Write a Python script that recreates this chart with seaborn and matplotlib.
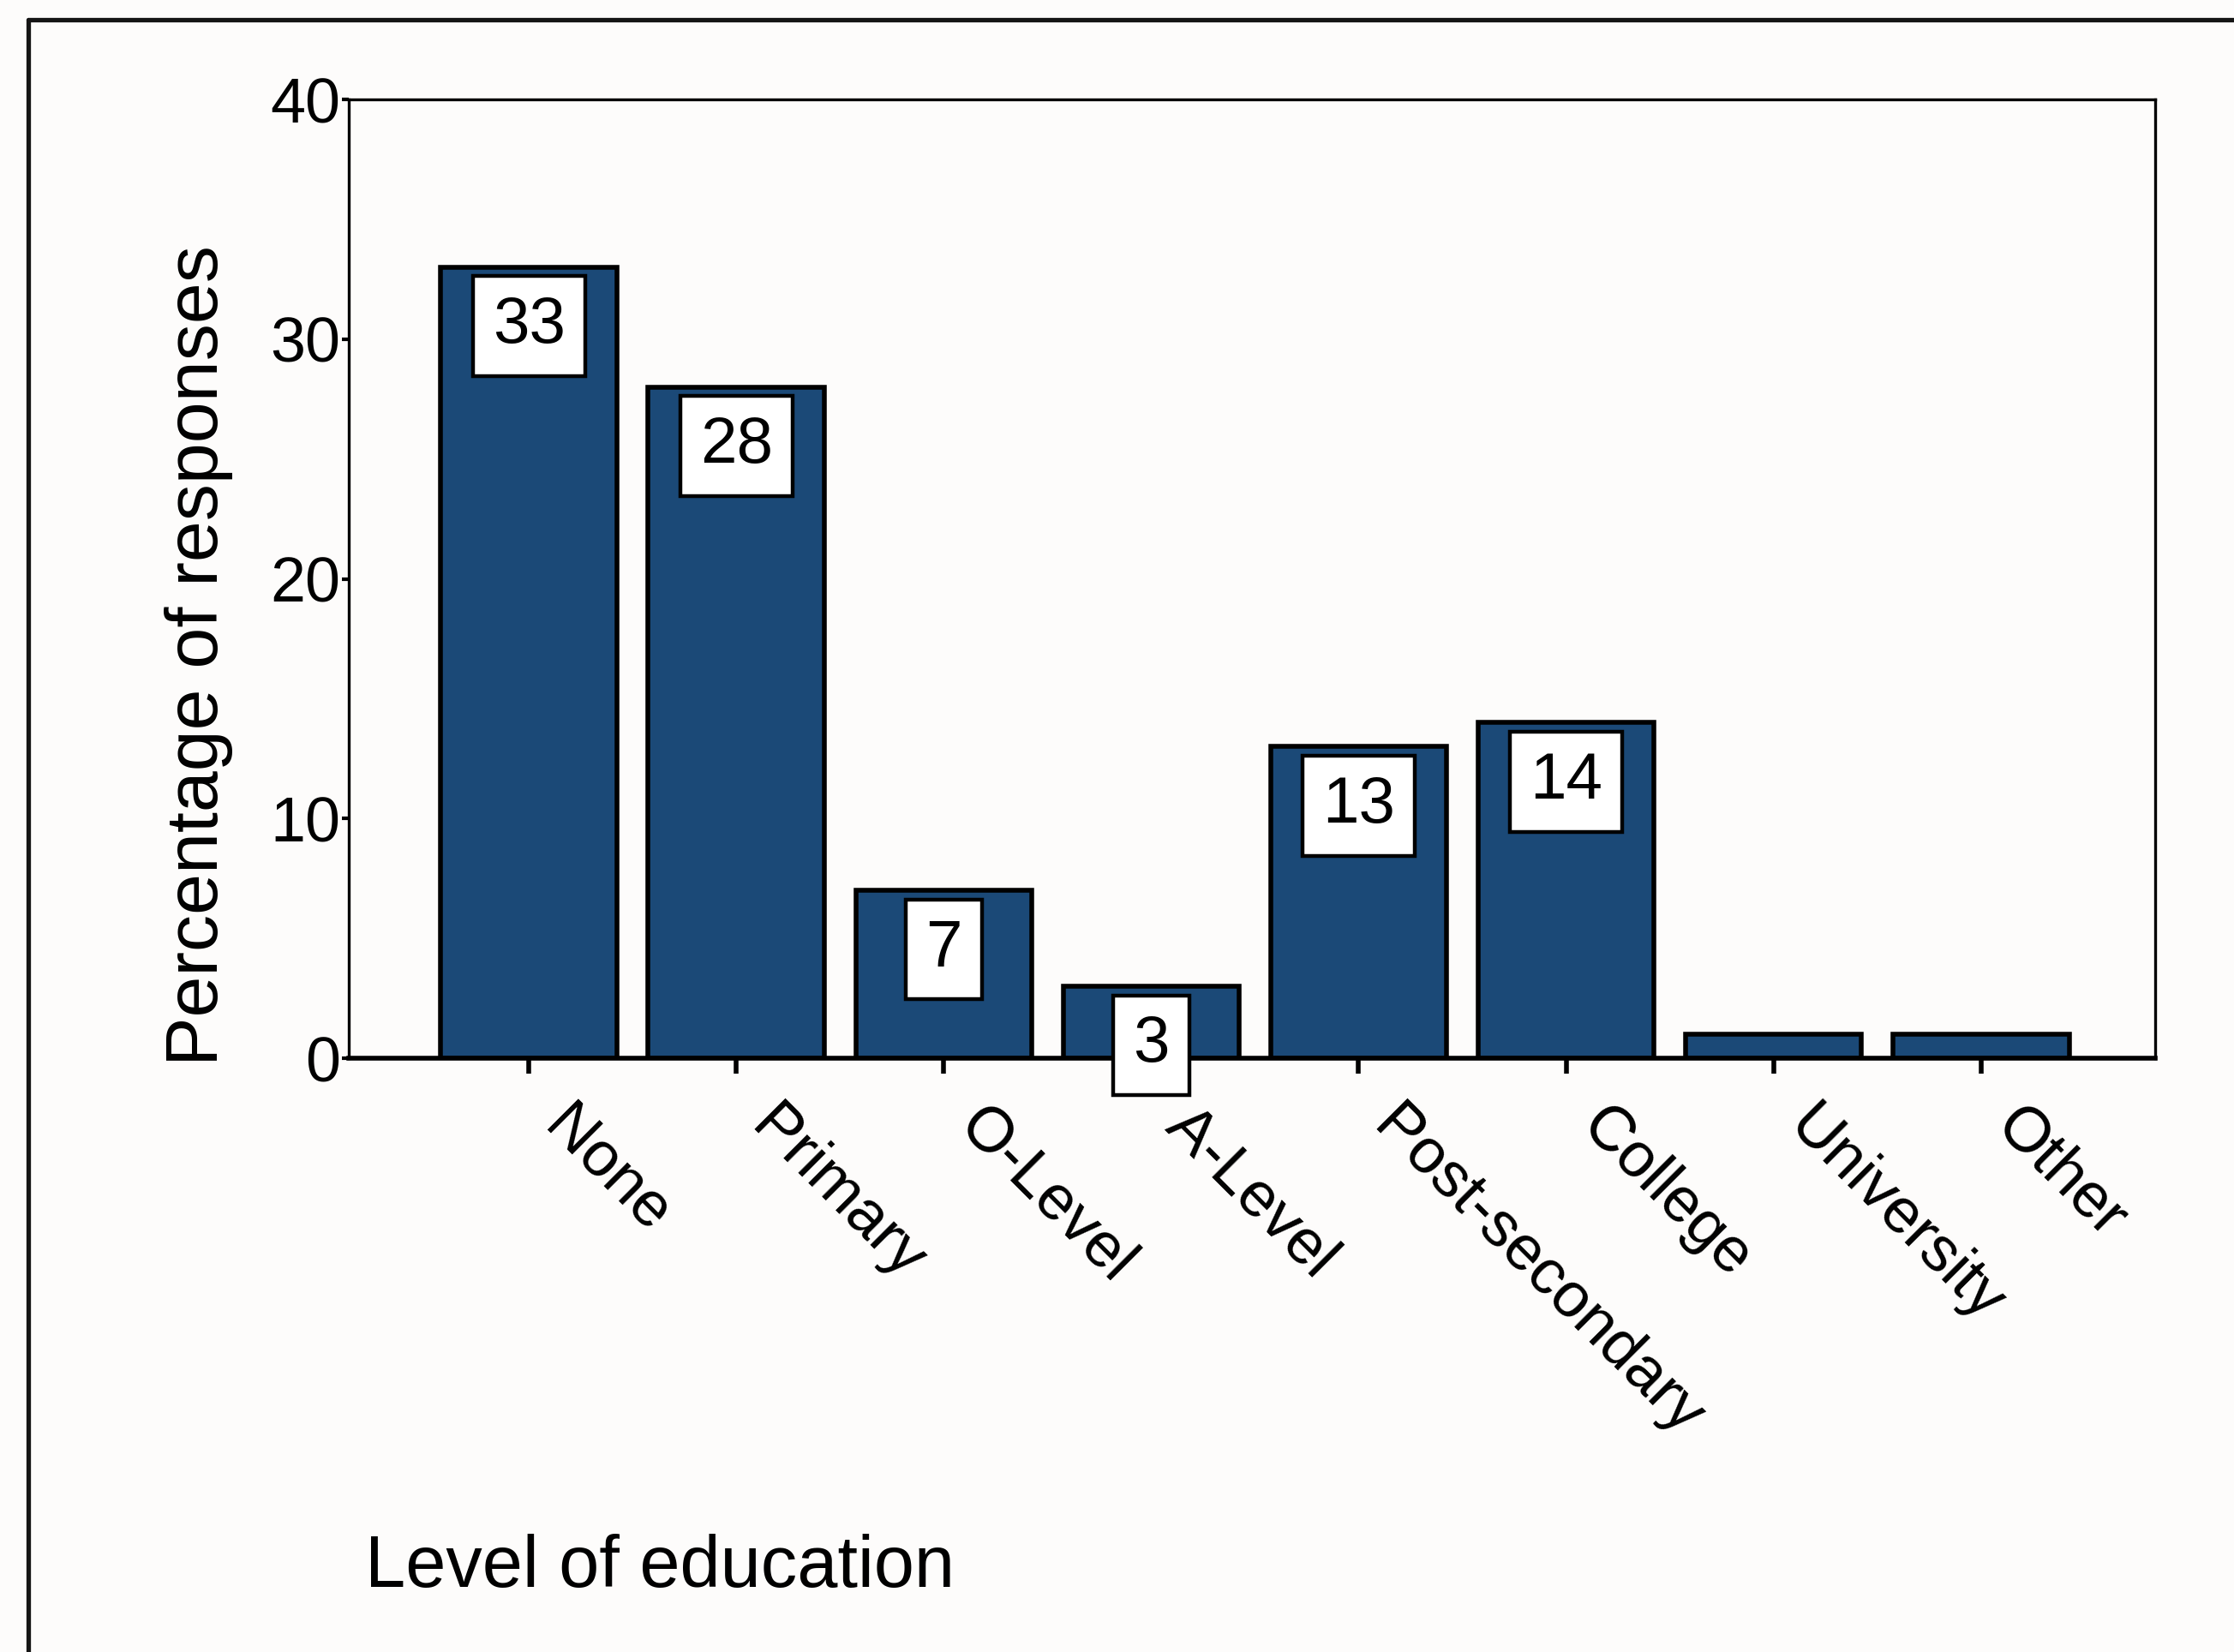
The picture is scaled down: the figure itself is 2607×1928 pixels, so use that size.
import matplotlib
matplotlib.use("Agg")
import matplotlib.pyplot as plt
import matplotlib.transforms as mtransforms
from matplotlib.lines import Line2D
import seaborn as sns
import pandas as pd

# Survey results: share of respondents by highest level of education
levels = ["None", "Primary", "O-Level", "A-Level", "Post-secondary",
          "College", "University", "Other"]
percent = [33, 28, 7, 3, 13, 14, 1, 1]
value_labels = ["33", "28", "7", "3", "13", "14", "", ""]
y_ticks = [0, 10, 20, 30, 40]

sns.set_theme(style="white")
plt.rcParams["font.family"] = ["Liberation Sans", "DejaVu Sans"]

paper = "#fdfcfb"
navy = "#1b4977"

fig = plt.figure(figsize=(26.07, 19.28), dpi=100, facecolor=paper)

# Page frame (top rule and left rule)
fig.add_artist(Line2D([0.0125, 1.0], [0.988, 0.988], transform=fig.transFigure,
                      color="#151515", lw=3.8, zorder=1))
fig.add_artist(Line2D([0.0125, 0.0125], [0.0, 0.988], transform=fig.transFigure,
                      color="#151515", lw=3.8, zorder=1))

ax = fig.add_axes([0.156, 0.3594, 0.8087, 0.5804])
ax.set_facecolor("none")

df = pd.DataFrame({"level": levels, "percent": percent})
sns.barplot(data=df, x="level", y="percent", color=navy, saturation=1,
            edgecolor="black", linewidth=4, width=0.85, ax=ax)

ax.set_xlim(-0.87, 7.84)
ax.set_ylim(0, 40)
ax.set_yticks(y_ticks)
ax.set_yticklabels([str(t) for t in y_ticks])

for side in ["top", "right", "left"]:
    ax.spines[side].set_visible(True)
    ax.spines[side].set_color("black")
    ax.spines[side].set_linewidth(2.4)
ax.spines["bottom"].set_visible(True)
ax.spines["bottom"].set_color("black")
ax.spines["bottom"].set_linewidth(4)

ax.tick_params(axis="y", which="major", direction="out", length=6, width=3,
               pad=1, labelsize=53, color="black", left=True, labelcolor="black")
ax.tick_params(axis="x", which="major", direction="out", length=13, width=4,
               pad=4, labelsize=53, color="black", bottom=True, labelcolor="black")

shift = mtransforms.ScaledTranslation(38 / 72, -15 / 72, fig.dpi_scale_trans)
for lab in ax.get_xticklabels():
    lab.set_rotation(-45)
    lab.set_ha("left")
    lab.set_va("top")
    lab.set_rotation_mode("anchor")
    lab.set_transform(lab.get_transform() + shift)

ax.set_xlabel("Level of education", fontsize=61, color="black", ha="left", va="center")
ax.xaxis.set_label_coords(0.009, -0.532)
ax.set_ylabel("Percentage of responses", fontsize=62, color="black", va="center")
ax.yaxis.set_label_coords(-0.083, 0.42)

# Value boxes just inside the top of each bar
for i, (v, lab) in enumerate(zip(percent, value_labels)):
    if not lab:
        continue
    ax.annotate(lab, xy=(i, v), xytext=(0, -24), textcoords="offset points",
                ha="center", va="top", fontsize=55, color="black", zorder=5,
                bbox=dict(boxstyle="square,pad=0.3", fc="white", ec="black", lw=3.2))

fig.savefig("out.png", dpi=100, facecolor=paper)
